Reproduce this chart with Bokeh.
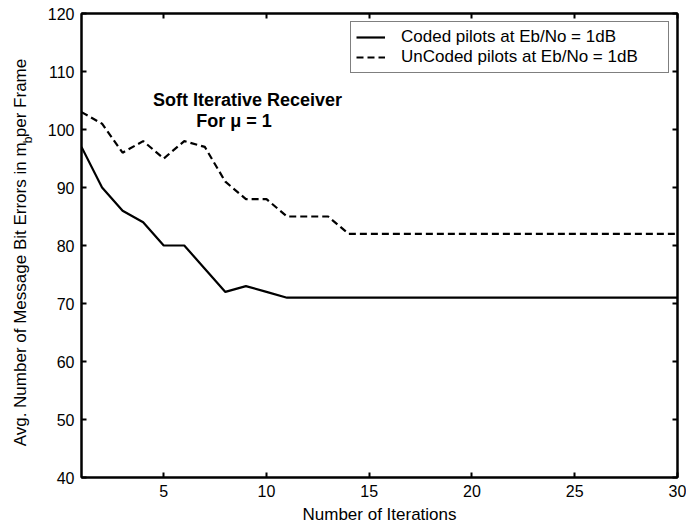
import math
from bokeh.plotting import figure
from bokeh.layouts import row
from bokeh.models import Range1d, FixedTicker, LinearAxis, Label
from bokeh.core.properties import value
from bokeh.embed import file_html
from bokeh.resources import INLINE

# ---------------- data ----------------
iterations = [1, 2, 3, 4, 5, 6, 7, 8, 9, 10,
              11, 12, 13, 14, 15, 16, 17, 18, 19, 20,
              21, 22, 23, 24, 25, 26, 27, 28, 29, 30]
coded = [97, 90, 86, 84, 80, 80, 76, 72, 73, 72,
         71, 71, 71, 71, 71, 71, 71, 71, 71, 71,
         71, 71, 71, 71, 71, 71, 71, 71, 71, 71]
uncoded = [103, 101, 96, 98, 95, 98, 97, 91, 88, 88,
           85, 85, 85, 82, 82, 82, 82, 82, 82, 82,
           82, 82, 82, 82, 82, 82, 82, 82, 82, 82]
x_ticks = [5, 10, 15, 20, 25, 30]
y_ticks = [40, 50, 60, 70, 80, 90, 100, 110, 120]
series_labels = ["Coded pilots at Eb/No = 1dB", "UnCoded pilots at Eb/No = 1dB"]
note_lines = ["Soft Iterative Receiver", "For  \u03bc = 1"]
y_label_parts = ["Avg. Number of Message Bit Errors in m", "b", " per Frame"]
x_label = "Number of Iterations"

# ---------------- layout ----------------
FONT = "Liberation Sans"
TOTAL_W, TOTAL_H = 686, 529
LW = 40                                   # strip holding the y-axis title
W = TOTAL_W - LW
FRAME_L, FRAME_R, FRAME_T, FRAME_B = 81, 677, 13, 477   # page px

p = figure(width=W, height=TOTAL_H, x_range=Range1d(1, 30), y_range=Range1d(40, 120),
           output_backend="svg", toolbar_location=None,
           min_border_left=FRAME_L - LW, min_border_right=TOTAL_W - FRAME_R,
           min_border_top=FRAME_T, min_border_bottom=TOTAL_H - FRAME_B)
p.background_fill_color = "white"
p.border_fill_color = "white"
p.xgrid.visible = False
p.ygrid.visible = False
p.outline_line_color = "black"
p.outline_line_width = 2
p.outline_line_alpha = 1.0

p.xaxis.ticker = FixedTicker(ticks=x_ticks)
p.yaxis.ticker = FixedTicker(ticks=y_ticks)
for ax in (p.xaxis[0], p.yaxis[0]):
    ax.axis_line_color = "black"
    ax.axis_line_width = 2
    ax.major_tick_in = 5
    ax.major_tick_out = 0
    ax.major_tick_line_width = 2
    ax.major_tick_line_color = "black"
    ax.minor_tick_in = 0
    ax.minor_tick_out = 0
    ax.major_label_text_font = FONT
    ax.major_label_text_font_size = "16px"
    ax.major_label_text_color = "black"
    ax.major_label_standoff = 7

p.xaxis.axis_label = x_label
p.xaxis.axis_label_text_font = FONT
p.xaxis.axis_label_text_font_size = "17px"
p.xaxis.axis_label_text_font_style = "normal"
p.xaxis.axis_label_text_color = "black"
p.xaxis.axis_label_standoff = 5

for loc, ticks in (("above", x_ticks), ("right", y_ticks)):
    ax = LinearAxis(ticker=FixedTicker(ticks=ticks),
                    major_label_overrides={t: "" for t in ticks},
                    major_label_text_font_size="0px", major_label_standoff=0,
                    major_tick_in=5, major_tick_out=0, major_tick_line_width=2,
                    minor_tick_in=0, minor_tick_out=0,
                    axis_line_width=2, axis_line_color="black")
    p.add_layout(ax, loc)

p.line(iterations, coded, line_color="black", line_width=2.2,
       legend_label=series_labels[0])
p.line(iterations, uncoded, line_color="black", line_width=2.2, line_dash="7 4",
       legend_label=series_labels[1])

lg = p.legend[0]
lg.location = "top_right"
lg.margin = 8
lg.padding = 5
lg.spacing = 0
lg.border_line_color = "black"
lg.border_line_width = 1
lg.background_fill_color = "white"
lg.background_fill_alpha = 1.0
lg.label_text_font = FONT
lg.label_text_font_size = "17px"
lg.label_text_color = "black"
lg.label_standoff = 16
lg.glyph_width = 29
lg.glyph_height = 14
lg.label_height = 14
lg.label_width = 262

# annotation text inside the plot (screen px relative to the frame)
for txt, sx, sy in ((note_lines[0], 166, 378), (note_lines[1], 155, 357)):
    p.add_layout(Label(x=sx, y=sy, x_units="screen", y_units="screen", text=txt,
                       text_align="center", text_baseline="middle",
                       text_font=FONT, text_font_style="bold",
                       text_font_size="18px", text_color="black"))

# ---------------- y-axis title strip (m with subscript b) ----------------
q = figure(width=LW, height=TOTAL_H, x_range=Range1d(0, LW), y_range=Range1d(0, TOTAL_H),
           output_backend="svg", toolbar_location=None,
           x_axis_type=None, y_axis_type=None, min_border=0)
q.grid.visible = False
q.outline_line_color = None
q.background_fill_color = "white"
q.border_fill_color = "white"

Y_MAIN_X, Y_SUB_X = 20, 27          # page x of text centres
Y_M_END, Y_B_MID, Y_PER_START = 147, 144, 141   # page y along the title
q.text(x=[Y_MAIN_X], y=[TOTAL_H - Y_M_END], text=[y_label_parts[0]], angle=math.pi / 2,
       text_align="right", text_baseline="middle", text_font=value(FONT),
       text_font_size=value("17px"), text_color="black")
q.text(x=[Y_SUB_X], y=[TOTAL_H - Y_B_MID], text=[y_label_parts[1]], angle=math.pi / 2,
       text_align="center", text_baseline="middle", text_font=value(FONT),
       text_font_size=value("12px"), text_color="black")
q.text(x=[Y_MAIN_X], y=[TOTAL_H - Y_PER_START], text=[y_label_parts[2]], angle=math.pi / 2,
       text_align="left", text_baseline="middle", text_font=value(FONT),
       text_font_size=value("17px"), text_color="black")

layout = row(q, p, spacing=0)
open("out.html", "w").write(file_html(layout, INLINE))
